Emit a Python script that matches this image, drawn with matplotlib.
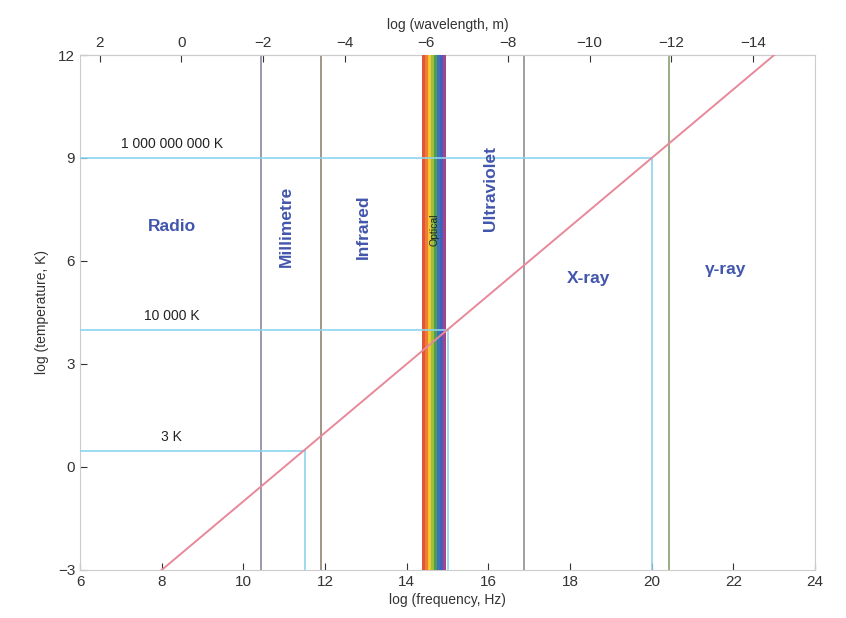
import matplotlib.pyplot as plt
import numpy as np

plt.rcParams['font.family'] = ['Liberation Sans', 'DejaVu Sans']

# log frequency (Hz) vs log temperature (K)
wien_x = [8, 23]
wien_y = [-3, 12]

# spectral band boundaries (log frequency)
band_edges = [10.43, 11.9, 16.87, 20.43]
band_colors = ['#8e879a', '#908476', '#8e8e96', '#86a070']

# optical rainbow strip
optical_lo, optical_hi = 14.38, 14.97
rainbow = ['#e2553a', '#ee7d30', '#f3c634', '#9cc03c', '#4f9e4c', '#3f6fc0', '#3d62b8', '#a8428f']

# temperature markers: (log T, log nu, label)
temp_logT = [9, 4, 0.48]
temp_lognu = [20, 15, 11.5]
temp_labels = ['1 000 000 000 K', '10 000 K', '3 K']

regions = ['Radio', 'Millimetre', 'Infrared', 'Ultraviolet', 'X-ray', 'γ-ray']
region_x = [8.25, 11.05, 12.95, 16.05, 18.45, 21.8]
region_y = [7.0, 7.0, 7.0, 8.1, 5.5, 5.75]
region_rot = [0, 90, 90, 90, 0, 0]

wl_ticks = [2, 0, -2, -4, -6, -8, -10, -12, -14]

fig = plt.figure(figsize=(8.46, 6.18), dpi=100)
ax = fig.add_axes([0.0946, 0.0777, 0.8688, 0.8333])
ax.set_xlim(6, 24)
ax.set_ylim(-3, 12)

for xe, c in zip(band_edges, band_colors):
    ax.axvline(xe, color=c, lw=1.2, zorder=2)

w = (optical_hi - optical_lo) / len(rainbow)
for i, c in enumerate(rainbow):
    ax.axvspan(optical_lo + i * w, optical_lo + (i + 1) * w, color=c, lw=0, zorder=3)
ax.text(14.68, 6.9, 'Optical', rotation=90, fontsize=7.5,
        ha='center', va='center', color='#222222', zorder=6)

cyan = '#8dd4ec'
for ty, tx, lab in zip(temp_logT, temp_lognu, temp_labels):
    ax.plot([6, tx], [ty, ty], color=cyan, lw=1.2, zorder=4)
    ax.plot([tx, tx], [-3, ty], color=cyan, lw=1.2, zorder=4)
    ax.text(8.25, ty + 0.4, lab, fontsize=10, color='#222222', ha='center', va='center')

ax.plot(wien_x, wien_y, color='#e8889a', lw=1.4, zorder=5)

for name, x, y, r in zip(regions, region_x, region_y, region_rot):
    ax.text(x, y, name, rotation=r, fontsize=12.5, fontweight='bold', color='#4256ad',
            ha='center', va='center', zorder=6)

ax.set_xticks(np.arange(6, 25, 2))
ax.set_yticks(np.arange(-3, 13, 3))
ax.tick_params(direction='in', labelsize=11, colors='#333333', length=5)
ax.set_xlabel('log (frequency, Hz)', fontsize=10, color='#333333', labelpad=3)
ax.set_ylabel('log (temperature, K)', fontsize=10, color='#333333', labelpad=6)
for s in ax.spines.values():
    s.set_color('#cccccc')

top = ax.secondary_xaxis('top', functions=(lambda v: 8.477 - v, lambda v: 8.477 - v))
top.set_xticks(wl_ticks)
top.tick_params(direction='in', labelsize=11, colors='#333333', length=5)
top.set_xlabel('log (wavelength, m)', fontsize=10, color='#333333', labelpad=5)
top.spines['top'].set_color('#cccccc')

fig.savefig('out.png', dpi=100, facecolor='white')
